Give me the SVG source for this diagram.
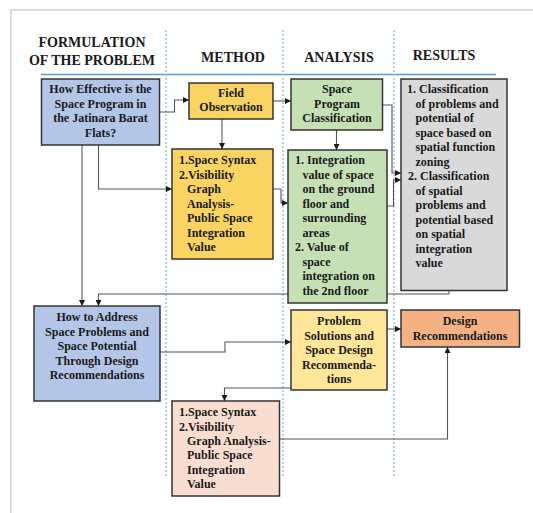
<svg xmlns="http://www.w3.org/2000/svg" width="533" height="513" viewBox="0 0 533 513">
<defs>
<marker id="arr" viewBox="0 0 6 6" refX="6" refY="3" markerWidth="6" markerHeight="6" markerUnits="userSpaceOnUse" orient="auto">
<path d="M0,0 L6,3 L0,6 z" fill="#1a1a1a"/>
</marker>
<style>
.frame{stroke:#dcdcdc;stroke-width:2;fill:none}
.lane{stroke:#9dc3e6;stroke-width:1.5;stroke-dasharray:2 2;fill:none}
.hl{stroke:#5b9bd5;stroke-width:1.3;fill:none}
.hd{font-family:"Liberation Serif","Times New Roman",serif;font-weight:bold;font-size:14px;fill:#1a1a1a;text-anchor:middle}
.box{stroke:#333;stroke-width:1.5}
.t{font-family:"Liberation Serif","Times New Roman",serif;font-weight:bold;font-size:12px;fill:#1a1a1a}
.c{text-anchor:middle}
.con path{stroke:#555;stroke-width:1.1;fill:none;marker-end:url(#arr)}
.con path.nm{marker-end:none}
</style>
</defs>
<rect width="533" height="513" fill="#fff"/>
<path class="frame" d="M11,513 V10 H533"/>
<g id="headers">
<text class="hd" x="92" y="47">FORMULATION</text>
<text class="hd" x="92" y="65">OF THE PROBLEM</text>
<text class="hd" x="233" y="62">METHOD</text>
<text class="hd" x="339" y="62">ANALYSIS</text>
<text class="hd" x="444" y="60">RESULTS</text>
</g>
<path class="hl" d="M41,74.5 H496"/>
<g id="lanes">
<path class="lane" d="M166,30 V478"/>
<path class="lane" d="M283,30 V478"/>
<path class="lane" d="M394,30 V478"/>
</g>
<g id="connectors" class="con">
<path d="M159.5,112 H174.5 V100 H189"/>
<path d="M273,101 H291"/>
<path d="M222,119 V149"/>
<path d="M336.5,130 V150"/>
<path d="M382.5,105 H392 V173 H401"/>
<path d="M387,206 H393.5 V180 H401"/>
<path d="M82,145 V306"/>
<path d="M98.5,145 V189 H172"/>
<path d="M273,189 H281 V203 H288"/>
<path d="M449,290.5 V294 H98.5 V306"/>
<path d="M160,352 H225 V342 H291"/>
<path d="M387,329 H401"/>
<path d="M291,388 H224.5 V401"/>
<path d="M279.5,439 H447.5 V347"/>
</g>
<g id="n-effective">
<rect class="box" x="41.5" y="79" width="118" height="66" fill="#b4c6e7"/>
<text class="t c" x="100.5" y="93">How Effective is the</text>
<text class="t c" x="100.5" y="107.5">Space Program in</text>
<text class="t c" x="100.5" y="122">the Jatinara Barat</text>
<text class="t c" x="100.5" y="136.5">Flats?</text>
</g>
<g id="n-field">
<rect class="box" x="189" y="83" width="84" height="36" fill="#f9d462"/>
<text class="t c" x="231" y="97">Field</text>
<text class="t c" x="231" y="111">Observation</text>
</g>
<g id="n-spc">
<rect class="box" x="291" y="79" width="91.5" height="51" fill="#c5e0b4"/>
<text class="t c" x="337" y="93">Space</text>
<text class="t c" x="337" y="107.5">Program</text>
<text class="t c" x="337" y="122">Classification</text>
</g>
<g id="n-results">
<rect class="box" x="401" y="79" width="106" height="211.5" fill="#d9d9d9"/>
<text class="t" x="407" y="93">1. Classification</text>
<text class="t" x="415.5" y="107.5">of problems and</text>
<text class="t" x="415.5" y="122">potential of</text>
<text class="t" x="415.5" y="136.5">space based on</text>
<text class="t" x="415.5" y="151">spatial function</text>
<text class="t" x="415.5" y="165.5">zoning</text>
<text class="t" x="408" y="180">2. Classification</text>
<text class="t" x="415.5" y="194.5">of spatial</text>
<text class="t" x="415.5" y="209">problems and</text>
<text class="t" x="415.5" y="223.5">potential based</text>
<text class="t" x="415.5" y="238">on spatial</text>
<text class="t" x="415.5" y="252.5">integration</text>
<text class="t" x="415.5" y="267">value</text>
</g>
<g id="n-method2">
<rect class="box" x="172" y="149" width="101" height="110" fill="#f9d462"/>
<text class="t" x="179" y="164">1.Space Syntax</text>
<text class="t" x="179" y="178.5">2.Visibility</text>
<text class="t" x="187" y="193">Graph</text>
<text class="t" x="187" y="207.5">Analysis-</text>
<text class="t" x="187" y="222">Public Space</text>
<text class="t" x="187" y="236.5">Integration</text>
<text class="t" x="187" y="251">Value</text>
</g>
<g id="n-analysis2">
<rect class="box" x="288" y="150" width="99" height="153" fill="#c5e0b4"/>
<text class="t" x="295" y="164">1. Integration</text>
<text class="t" x="302.5" y="178.5">value of space</text>
<text class="t" x="302.5" y="193">on the ground</text>
<text class="t" x="302.5" y="207.5">floor and</text>
<text class="t" x="302.5" y="222">surrounding</text>
<text class="t" x="302.5" y="236.5">areas</text>
<text class="t" x="295" y="251">2. Value of</text>
<text class="t" x="302.5" y="265.5">space</text>
<text class="t" x="302.5" y="280">integration on</text>
<text class="t" x="302.5" y="294.5">the 2nd floor</text>
</g>
<g id="n-address">
<rect class="box" x="34" y="306" width="126" height="95" fill="#b4c6e7"/>
<text class="t c" x="97" y="321">How to Address</text>
<text class="t c" x="97" y="335.5">Space Problems and</text>
<text class="t c" x="97" y="350">Space Potential</text>
<text class="t c" x="97" y="364.5">Through Design</text>
<text class="t c" x="97" y="378.5">Recommendations</text>
</g>
<g id="n-solutions">
<rect class="box" x="291" y="310" width="96" height="80" fill="#ffe699"/>
<text class="t c" x="339" y="325">Problem</text>
<text class="t c" x="339" y="339.5">Solutions and</text>
<text class="t c" x="339" y="354">Space Design</text>
<text class="t c" x="339" y="368.5">Recommenda-</text>
<text class="t c" x="339" y="383">tions</text>
</g>
<g id="n-design">
<rect class="box" x="401" y="310" width="118.5" height="37" fill="#f4b183"/>
<text class="t c" x="460" y="325">Design</text>
<text class="t c" x="460" y="339.5">Recommendations</text>
</g>
<g id="n-method3">
<rect class="box" x="172" y="401" width="107.5" height="95" fill="#f8ddd0"/>
<text class="t" x="179" y="416">1.Space Syntax</text>
<text class="t" x="179" y="430.5">2.Visibility</text>
<text class="t" x="187" y="445">Graph Analysis-</text>
<text class="t" x="187" y="459">Public Space</text>
<text class="t" x="187" y="473.5">Integration</text>
<text class="t" x="187" y="488">Value</text>
</g>
</svg>
